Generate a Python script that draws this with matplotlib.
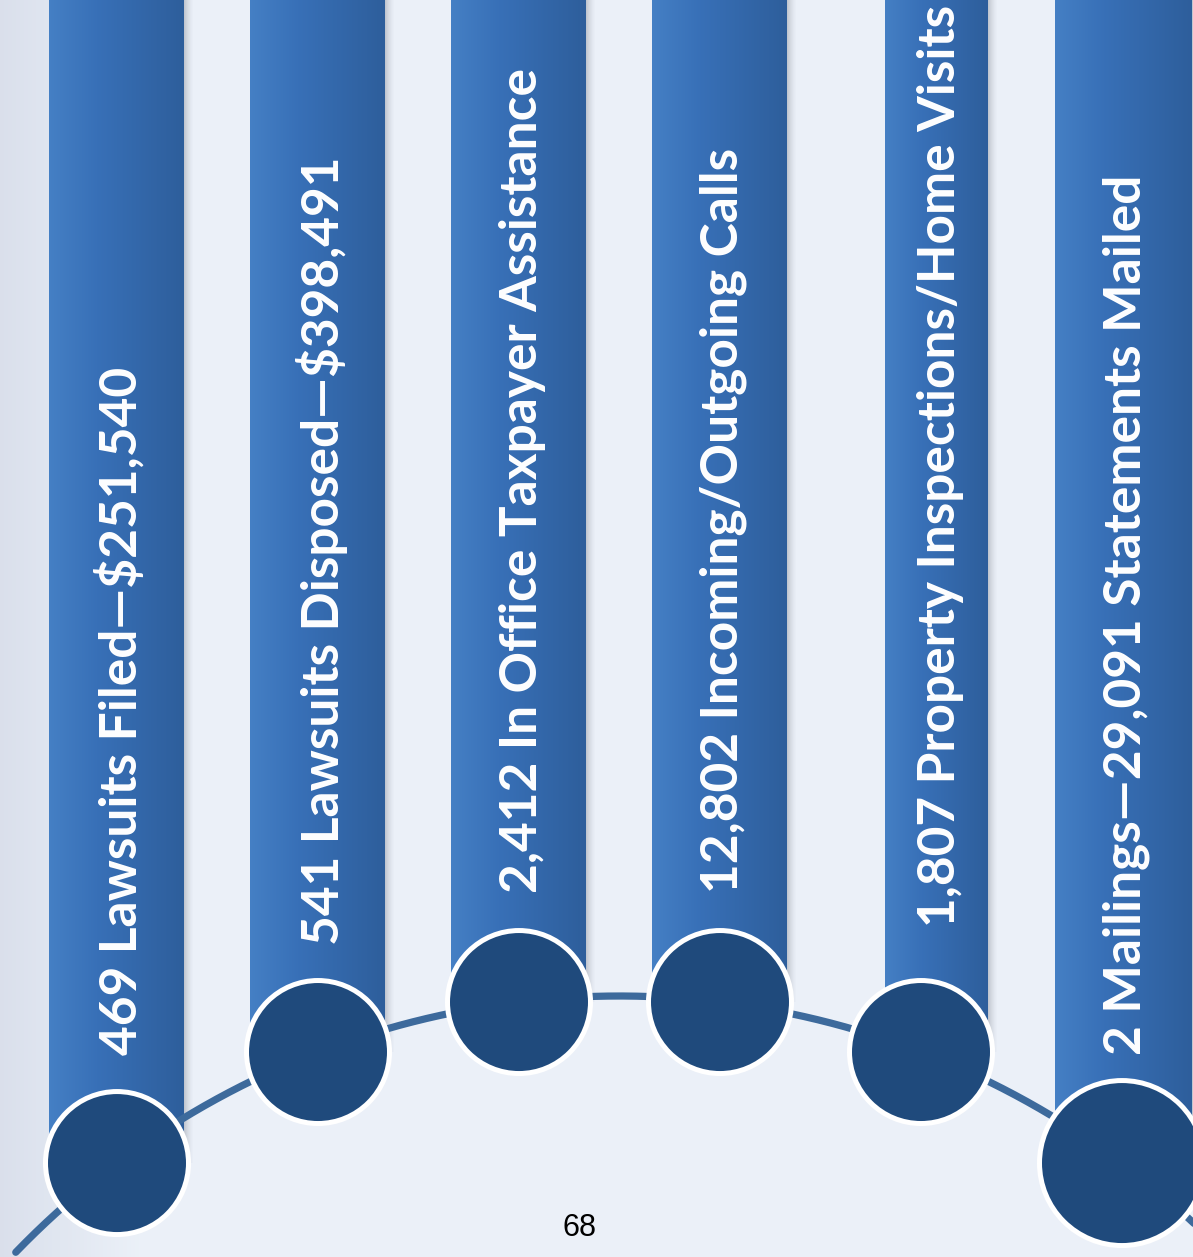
import numpy as np
import matplotlib.pyplot as plt
from matplotlib.patches import Circle

# activity counts and what they describe
counts = [469, 541, 2412, 12802, 1807, 2]
descriptions = [
    "Lawsuits Filed\u2014$251,540",
    "Lawsuits Disposed\u2014$398,491",
    "In Office Taxpayer Assistance",
    "Incoming/Outgoing Calls",
    "Property Inspections/Home Visits",
    "Mailings\u201429,091 Statements Mailed",
]
page_number = "68"

# layout (pixel units, y down)
W, H = 1193, 1257
bar_left = [49, 250, 451, 652, 885, 1055]
bar_right = [184, 385, 586, 787, 988, 1192]
node_x = [117, 318, 519, 720, 921, 1122]
node_r = [74, 74, 74, 74, 74, 85]
text_bottom = [1055, 945, 893, 893, 927, 1055]
arc_cx, arc_cy, arc_r = 619.5, 1835.3, 839.3

fig = plt.figure(figsize=(W / 100, H / 100), dpi=100)
ax = fig.add_axes([0, 0, 1, 1])
ax.set_xlim(0, W)
ax.set_ylim(H, 0)
ax.axis("off")

# pale background, a little darker at the left edge
xs = np.linspace(0, 1, 300)
bg_l = np.array([0.855, 0.878, 0.925])
bg_r = np.array([0.925, 0.945, 0.975])
t = np.clip(xs / 0.12, 0, 1)[:, None]
bg = (bg_l * (1 - t) + bg_r * t)[None, :, :]
ax.imshow(bg, extent=[0, W, H, 0], aspect="auto", zorder=0)

# horizontal gradient used for each column
stops = np.array([0.0, 0.35, 1.0])
cols = np.array([[0.27, 0.50, 0.77],
                 [0.22, 0.44, 0.72],
                 [0.18, 0.37, 0.61]])
g = np.linspace(0, 1, 200)
grad = np.stack([np.interp(g, stops, cols[:, k]) for k in range(3)], axis=1)[None, :, :]

shadow = np.zeros((1, 40, 4))
shadow[..., :3] = [0.35, 0.37, 0.42]
shadow[..., 3] = np.linspace(0.45, 0.0, 40) ** 1.5

# the arc linking the nodes
node_y = [arc_cy - np.sqrt(arc_r ** 2 - (x - arc_cx) ** 2) for x in node_x]

for i in range(len(counts)):
    l, r = bar_left[i], bar_right[i]
    bottom = node_y[i]
    ax.imshow(shadow, extent=[r, r + 10, bottom, 0], aspect="auto", zorder=1)
    ax.imshow(grad, extent=[l, r, bottom, 0], aspect="auto", zorder=2)

th = np.linspace(np.radians(-46), np.radians(50), 400)
ax.plot(arc_cx + arc_r * np.sin(th), arc_cy - arc_r * np.cos(th),
        color="#3d6a9c", lw=5.2, solid_capstyle="round", zorder=3)

for i in range(len(counts)):
    ax.add_patch(Circle((node_x[i], node_y[i]), node_r[i] - 2.5,
                        facecolor="#1f4a7c", edgecolor="white", lw=3.6, zorder=4))
    label = f"{counts[i]:,} {descriptions[i]}"
    cx = (bar_left[i] + min(bar_right[i], 1190)) / 2 + 4
    ax.text(cx, text_bottom[i], label, rotation=90, ha="center", va="bottom",
            color="white", fontsize=37, fontweight="bold",
            family=["Lato", "DejaVu Sans"], zorder=5)

ax.text(579, 1228, page_number, ha="center", va="center", fontsize=22,
        family="Liberation Sans", color="black", zorder=5)

fig.savefig("out.png", dpi=100)
